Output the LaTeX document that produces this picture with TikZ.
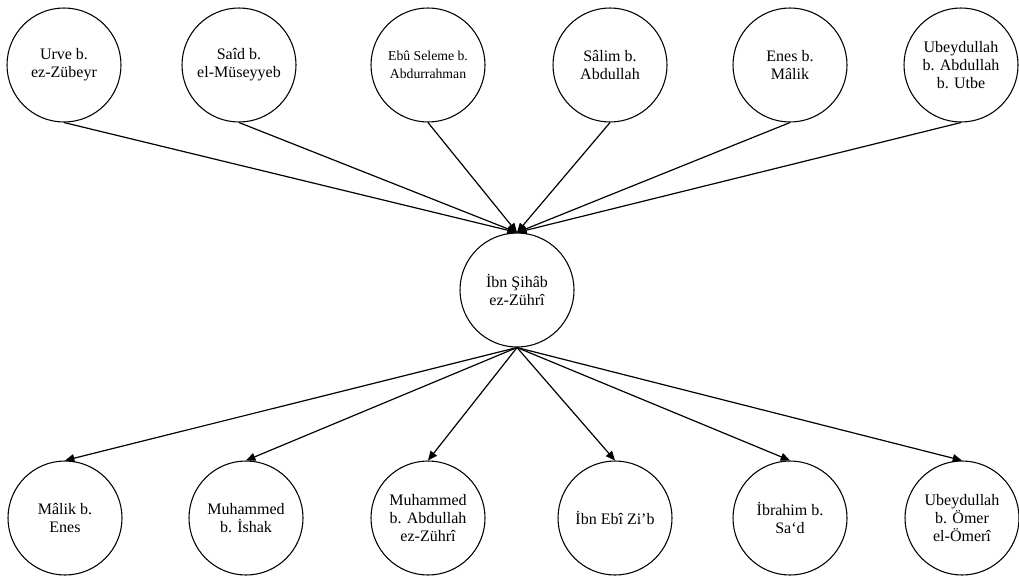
\documentclass[tikz,border=0pt]{standalone}
\usepackage{fontspec}
\setmainfont{Liberation Serif}
\usepackage{tikz}
\usetikzlibrary{arrows.meta}

\begin{document}
\begin{tikzpicture}[
        x=0.75pt, y=-0.75pt,
        narrator/.style={circle, draw, line width=0.8pt, minimum size=85.5pt, inner sep=0pt, align=center, font=\fontsize{12}{13.5}\selectfont},
        link/.style={draw, -{Triangle[length=7pt, width=6pt]}, line width=0.9pt},
        every node/.style={text=black}
        ]

        \useasboundingbox (0,0) rectangle (1019,578);

        % Teachers
        \node[narrator] (urve) at (64,65) {Urve b.\\ez-Zübeyr};
        \node[narrator] (said) at (239,65) {Saîd b.\\el-Müseyyeb};
        \node[narrator, font=\fontsize{10.3}{13.5}\selectfont] (ebuseleme) at (428,65) {Ebû Seleme b.\\Abdurrahman};
        \node[narrator] (salim) at (610,65) {Sâlim b.\\Abdullah};
        \node[narrator] (enes) at (790,65) {Enes b.\\Mâlik};
        \node[narrator] (ubeydullah_utbe) at (961,65) {Ubeydullah\\b. Abdullah\\b. Utbe};

        % Center
        \node[narrator] (zuhri) at (517,290) {İbn Şihâb\\ez-Zührî};

        % Students
        \node[narrator] (malik) at (65,518) {Mâlik b.\\Enes};
        \node[narrator] (ishak) at (246,518) {Muhammed\\b. İshak};
        \node[narrator] (m_abdullah) at (428,518) {Muhammed\\b. Abdullah\\ez-Zührî};
        \node[narrator] (ibnebizib) at (615,518) {İbn Ebî Zi’b};
        \node[narrator] (ibrahim) at (790,518) {İbrahim b.\\Sa‘d};
        \node[narrator] (ubeydullah_omer) at (962,518) {Ubeydullah\\b. Ömer\\el-Ömerî};

        % Links
        \foreach \t in {urve, said, ebuseleme, salim, enes, ubeydullah_utbe}
            \draw[link] (\t.south) -- (zuhri.north);
        \foreach \s in {malik, ishak, m_abdullah, ibnebizib, ibrahim, ubeydullah_omer}
            \draw[link] (zuhri.south) -- (\s.north);

    \end{tikzpicture}
\end{document}
